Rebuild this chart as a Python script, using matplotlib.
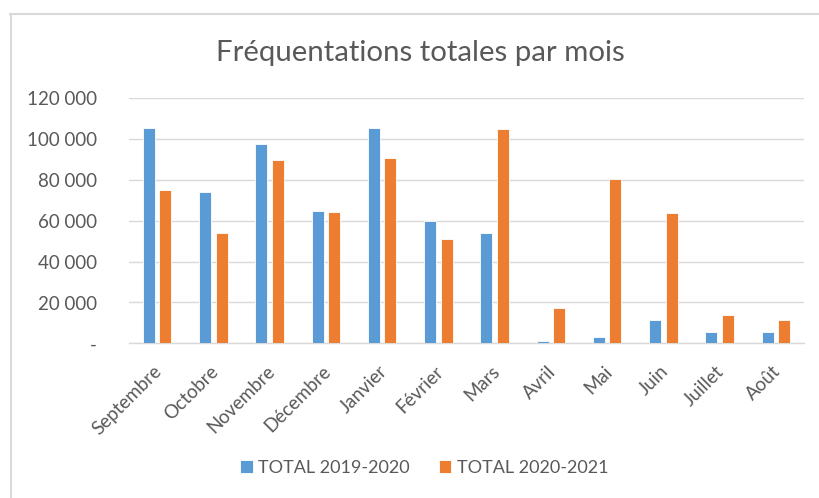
import matplotlib
matplotlib.use("Agg")
import matplotlib.pyplot as plt
from matplotlib.ticker import FuncFormatter
from matplotlib.lines import Line2D
import matplotlib.transforms as mtransforms
import numpy as np

months = ["Septembre", "Octobre", "Novembre", "Décembre", "Janvier", "Février",
          "Mars", "Avril", "Mai", "Juin", "Juillet", "Août"]
total_2019_2020 = [105700, 74000, 97700, 65000, 105700, 60100,
                   54200, 1300, 2900, 11400, 5500, 5500]
total_2020_2021 = [75100, 54200, 89700, 64500, 90700, 51000,
                   105200, 17300, 80500, 63900, 13700, 11400]
series_names = ["TOTAL 2019-2020", "TOTAL 2020-2021"]
yticks = [0, 20000, 40000, 60000, 80000, 100000, 120000]

plt.rcParams['font.family'] = ['Lato', 'DejaVu Sans']
gray = "#595959"

fig = plt.figure(figsize=(8.19, 4.98), dpi=100)
ax = fig.add_axes([129/819, 1-343.3/498, (804-129)/819, (343.3-98.5)/498])

x = np.arange(len(months))
w = 0.215
off = 0.148
ax.bar(x - off, total_2019_2020, w, color="#5B9BD5", edgecolor="white", linewidth=0.6,
       label=series_names[0], zorder=3)
ax.bar(x + off, total_2020_2021, w, color="#ED7D31", edgecolor="white", linewidth=0.6,
       label=series_names[1], zorder=3)

ax.set_xlim(-0.5, len(months) - 0.5)
ax.set_ylim(0, 120000)
ax.set_yticks(yticks)
ax.yaxis.set_major_formatter(FuncFormatter(
    lambda v, p: "-" if v == 0 else f"{int(v):,}".replace(",", " ")))
ax.grid(axis="y", color="#D9D9D9", linewidth=1, zorder=0)
for s in ["top", "right", "left"]:
    ax.spines[s].set_visible(False)
ax.spines["bottom"].set_color("#D9D9D9")
ax.spines["bottom"].set_linewidth(1)
ax.tick_params(axis="both", length=0, colors=gray, labelsize=13.5)
ax.tick_params(axis="y", pad=23)
ax.tick_params(axis="x", pad=14)
ax.set_xticks(x)
ax.set_xticklabels(months, rotation=45, ha="right", rotation_mode="anchor")
shift = mtransforms.ScaledTranslation(-4/100, 0, fig.dpi_scale_trans)
for lbl in ax.get_xticklabels():
    lbl.set_transform(lbl.get_transform() + shift)

fig.text(420/819, 1-53/498, "Fréquentations totales par mois", ha="center", va="center",
         fontsize=21.2, color=gray)

leg = fig.legend(loc="center", bbox_to_anchor=(424/819, 1-468/498), ncol=2, frameon=False,
                 fontsize=13, handlelength=0.7, handleheight=0.7, columnspacing=1.6,
                 handletextpad=0.3)
for t in leg.get_texts():
    t.set_color(gray)

fig.add_artist(Line2D([10.5/819, 10.5/819], [0, 1-14/498], transform=fig.transFigure,
                      color="#D9D9D9", linewidth=1.5))
fig.add_artist(Line2D([10/819, 1], [1-14/498, 1-14/498], transform=fig.transFigure,
                      color="#D9D9D9", linewidth=1.5))

fig.savefig("out.png", dpi=100)
